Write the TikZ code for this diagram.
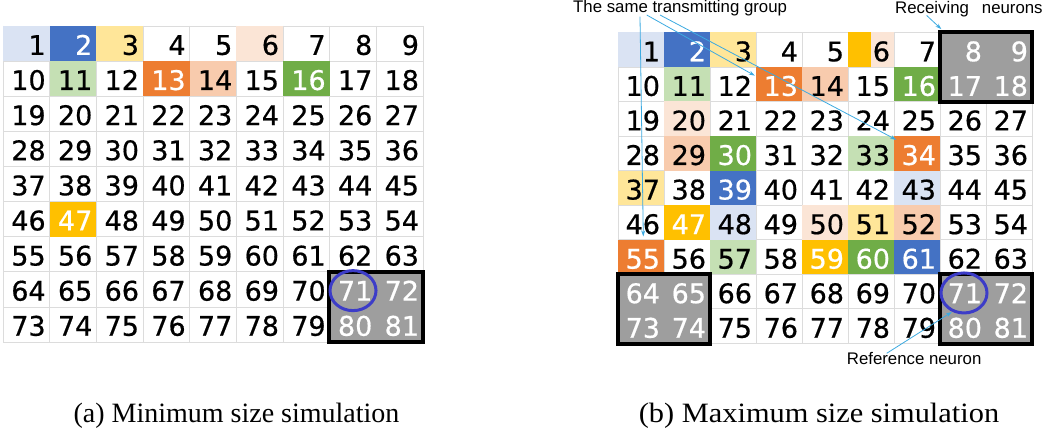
\documentclass[tikz,border=0pt]{standalone}
\usepackage{fontspec}
\usepackage{graphicx}
\setmainfont{Liberation Serif}
\newfontfamily\numfont[FakeBold=0.6]{DejaVu Sans}
\newfontfamily\annfont{Liberation Sans}
\usetikzlibrary{arrows.meta,calc,shapes.geometric}

\definecolor{cbluel}{HTML}{DAE3F3}
\definecolor{cblue}{HTML}{4472C4}
\definecolor{cyell}{HTML}{FFE699}
\definecolor{cgold}{HTML}{FFC000}
\definecolor{cpeach}{HTML}{FBE5D6}
\definecolor{corgl}{HTML}{F8CBAD}
\definecolor{corg}{HTML}{ED7D31}
\definecolor{cgrnl}{HTML}{C5E0B4}
\definecolor{cgrn}{HTML}{70AD47}
\definecolor{boxgray}{HTML}{9E9E9E}
\definecolor{gridgray}{HTML}{DCDCDC}
\definecolor{circblue}{RGB}{60,60,200}
\definecolor{arrcyan}{RGB}{60,170,225}

\newcommand\setcell[4]{\expandafter\def\csname cf#1#2\endcsname{#3}\expandafter\def\csname ct#1#2\endcsname{#4}}
% left grid
\setcell{L}{1}{cbluel}{black}
\setcell{L}{2}{cblue}{white}
\setcell{L}{3}{cyell}{black}
\setcell{L}{6}{cpeach}{black}
\setcell{L}{11}{cgrnl}{black}
\setcell{L}{13}{corg}{white}
\setcell{L}{14}{corgl}{black}
\setcell{L}{16}{cgrn}{white}
\setcell{L}{47}{cgold}{white}
\setcell{L}{71}{boxgray}{white}
\setcell{L}{72}{boxgray}{white}
\setcell{L}{80}{boxgray}{white}
\setcell{L}{81}{boxgray}{white}
% right grid
\setcell{R}{1}{cbluel}{black}
\setcell{R}{2}{cblue}{white}
\setcell{R}{3}{cyell}{black}
\setcell{R}{6}{cpeach}{black}
\setcell{R}{8}{boxgray}{white}
\setcell{R}{9}{boxgray}{white}
\setcell{R}{17}{boxgray}{white}
\setcell{R}{18}{boxgray}{white}
\setcell{R}{11}{cgrnl}{black}
\setcell{R}{13}{corg}{white}
\setcell{R}{14}{corgl}{black}
\setcell{R}{16}{cgrn}{white}
\setcell{R}{20}{cpeach}{black}
\setcell{R}{29}{corgl}{black}
\setcell{R}{30}{cgrn}{white}
\setcell{R}{33}{cgrnl}{black}
\setcell{R}{34}{corg}{white}
\setcell{R}{37}{cyell}{black}
\setcell{R}{39}{cblue}{white}
\setcell{R}{43}{cbluel}{black}
\setcell{R}{47}{cgold}{white}
\setcell{R}{48}{cbluel}{black}
\setcell{R}{50}{cpeach}{black}
\setcell{R}{51}{cyell}{black}
\setcell{R}{52}{corgl}{black}
\setcell{R}{55}{corg}{white}
\setcell{R}{57}{cgrnl}{black}
\setcell{R}{59}{cgold}{white}
\setcell{R}{60}{cgrn}{white}
\setcell{R}{61}{cblue}{white}
\setcell{R}{64}{boxgray}{white}
\setcell{R}{65}{boxgray}{white}
\setcell{R}{73}{boxgray}{white}
\setcell{R}{74}{boxgray}{white}
\setcell{R}{71}{boxgray}{white}
\setcell{R}{72}{boxgray}{white}
\setcell{R}{80}{boxgray}{white}
\setcell{R}{81}{boxgray}{white}

\tikzset{
  numcell/.style={draw=none, inner xsep=4pt, inner ysep=0pt, align=right,
    font=\numfont\fontsize{27}{27}\selectfont, text depth=0pt},
  cellL/.style={numcell, minimum width=46.667pt, minimum height=35.111pt,
    text width=38.667pt, text height=22.6pt},
  cellR/.style={numcell, minimum width=46pt, minimum height=34.556pt,
    text width=38pt, text height=23.4pt},
  gridline/.style={draw=gridgray, line width=0.6pt},
  bbox/.style={draw=black, line width=4pt},
  refcirc/.style={draw=circblue, line width=3pt, ellipse, minimum width=46pt, minimum height=40pt, inner sep=0pt},
  arr/.style={draw=arrcyan, line width=0.8pt, -{Stealth[length=6pt,width=4pt]}},
  ann/.style={font=\annfont\fontsize{16.8}{16.8}\selectfont, inner sep=0pt},
  captxt/.style={font=\fontsize{28}{28}\selectfont, inner sep=0pt}
}

\begin{document}
\begin{tikzpicture}[x=1pt,y=-1pt]
\useasboundingbox (0,0) rectangle (1045,428);
\fill[white] (0,0) rectangle (1045,428);

% ---------- left grid ----------
\foreach \i in {0,...,9}{
  \draw[gridline] ({3+\i*46.667},26) -- ({3+\i*46.667},342);
  \draw[gridline] (3,{26+\i*35.111}) -- (423,{26+\i*35.111});
}
\foreach \n in {1,...,81}{
  \pgfmathtruncatemacro\cc{mod(\n-1,9)}
  \pgfmathtruncatemacro\rr{div(\n-1,9)}
  \ifcsname cfL\n\endcsname
    \edef\fc{\csname cfL\n\endcsname}\edef\tc{\csname ctL\n\endcsname}
  \else \def\fc{none}\def\tc{black}\fi
  \node[cellL, fill=\fc, text=\tc] (L\n) at ({3+(\cc+0.5)*46.667},{26+(\rr+0.5)*35.111}) {\n};
}
\draw[bbox] (L71.north west) rectangle (L81.south east);
\node[refcirc] (LC) at ($(L71.center)+(0,1.3)$) {};

% ---------- right grid ----------
\foreach \i in {0,...,9}{
  \draw[gridline] ({618+\i*46},32.3) -- ({618+\i*46},343.3);
  \draw[gridline] (618,{32.3+\i*34.556}) -- (1032,{32.3+\i*34.556});
}
\foreach \n in {1,...,81}{
  \pgfmathtruncatemacro\cc{mod(\n-1,9)}
  \pgfmathtruncatemacro\rr{div(\n-1,9)}
  \ifcsname cfR\n\endcsname
    \edef\fc{\csname cfR\n\endcsname}\edef\tc{\csname ctR\n\endcsname}
  \else \def\fc{none}\def\tc{black}\fi
  \node[cellR, fill=\fc, text=\tc] (R\n) at ({618+(\cc+0.5)*46},{32.3+(\rr+0.5)*34.556}) {\n};
}
\fill[cgold] (R6.north west) rectangle (R6.south);
\draw[bbox] (R8.north west) rectangle (R18.south east);
\draw[bbox] (R64.north west) rectangle (R74.south east);
\draw[bbox] (R71.north west) rectangle (R81.south east);
\node[refcirc] (RC) at ($(R71.center)+(1,1.5)$) {};

% ---------- annotations ----------
\node[ann, anchor=base west] (tsg) at (573,12.5) {The same transmitting group};
\node[ann, anchor=base west] (recv) at (895,13.5) {Receiving\hspace{13pt}neurons};
\node[ann, anchor=base west] (refn) at (846.7,364) {Reference neuron};

\coordinate (s1) at (640,16.7);
\coordinate (s2) at (646.7,15);
\coordinate (s3) at (660,15);
\coordinate (s4) at (926.7,15.5);
\coordinate (s5) at (886.7,353.3);

\draw[arr] (s1) -- ($(R55.north)+(2.3,-3)$);
\draw[arr] (s2) -- ($(R13.north west)+(-1,9)$);
\draw[arr] (s3) -- ($(R34.north west)+(2.5,4)$);
\draw[arr] (s4) -- ($(R8.north west)+(1.5,-3)$);
\draw[arr] (s5) -- ($(R80.north west)+(12,3.5)$);

% ---------- captions ----------
\node[captxt, anchor=base] (capa) at (236.5,422) {(a) Minimum size simulation};
\node[captxt, anchor=base] (capb) at (819,422) {\scalebox{1.085}[1]{(b) Maximum size simulation}};
\end{tikzpicture}
\end{document}
